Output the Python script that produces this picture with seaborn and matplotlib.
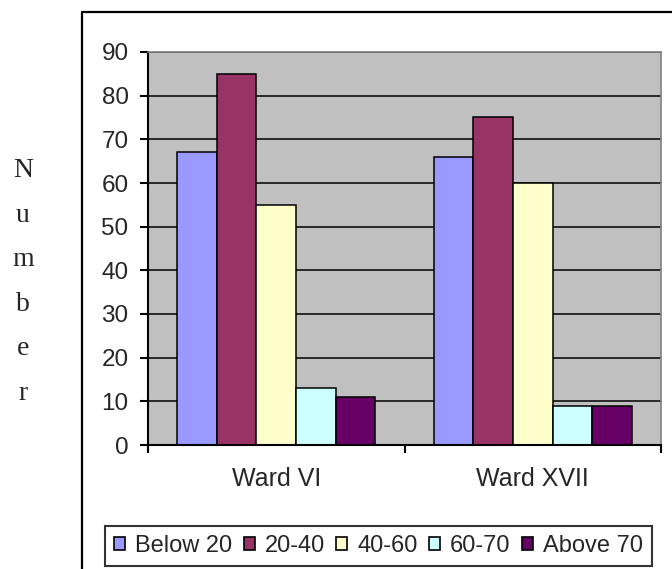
import matplotlib
matplotlib.use("Agg")
import matplotlib.pyplot as plt
from matplotlib.patches import Patch
from matplotlib.lines import Line2D
import seaborn as sns
import pandas as pd

# Data
wards = ["Ward VI", "Ward XVII"]
age_groups = ["Below 20", "20-40", "40-60", "60-70", "Above 70"]
ward_vi = [67, 85, 55, 13, 11]
ward_xvii = [66, 75, 60, 9, 9]
yticks = [0, 10, 20, 30, 40, 50, 60, 70, 80, 90]
colors = ["#9999FF", "#993366", "#FFFFCC", "#CCFFFF", "#660066"]

rows = []
for ward, vals in zip(wards, [ward_vi, ward_xvii]):
    for grp, v in zip(age_groups, vals):
        rows.append({"Ward": ward, "Age": grp, "Number": v})
df = pd.DataFrame(rows)

sns.set_style("white")
plt.rcParams["font.family"] = ["Liberation Sans", "DejaVu Sans"]

W, H = 672, 569
fig = plt.figure(figsize=(W / 100, H / 100), dpi=100)
ax = fig.add_axes([148 / W, (H - 445) / H, (661 - 148) / W, (445 - 52) / H])
ax.set_facecolor("#C0C0C0")

sns.barplot(data=df, x="Ward", y="Number", hue="Age", order=wards,
            hue_order=age_groups, palette=colors, saturation=1,
            edgecolor="black", linewidth=1.1, width=0.77, ax=ax,
            legend=False, errorbar=None)

ax.set_xlim(-0.5, 1.5)
ax.set_ylim(0, 90)
ax.set_yticks(yticks)
ax.set_yticklabels([str(t) for t in yticks], fontsize=17.5)
ax.yaxis.grid(True, color="black", linewidth=1.1)
ax.set_axisbelow(True)

ax.set_xticks([0, 1])
ax.set_xticklabels(wards, fontsize=18)
ax.set_xticks([-0.5, 0.5, 1.5], minor=True)
ax.tick_params(axis="x", which="major", length=0, pad=16)
ax.tick_params(axis="x", which="minor", length=6, width=1.5, color="black",
               direction="out", bottom=True)
ax.tick_params(axis="y", length=6, width=1.5, color="black", direction="out",
               pad=8, left=True)
ax.set_xlabel("")
ax.set_ylabel("")

for side in ["left", "bottom"]:
    ax.spines[side].set_color("black")
    ax.spines[side].set_linewidth(1.5)
for side in ["top", "right"]:
    ax.spines[side].set_visible(True)
    ax.spines[side].set_color("#808080")
    ax.spines[side].set_linewidth(1.2)

# Vertical "Number" label, one letter per line
for i, ch in enumerate("Number"):
    fig.text(23 / W, 1 - (177 + 44.6 * i) / H, ch, ha="center", va="baseline",
             fontsize=20, family=["Liberation Serif", "DejaVu Serif"])

# Outer chart frame (left and top edges)
fig.add_artist(Line2D([82 / W, 82 / W, 1.0], [0.0, 1 - 12 / H, 1 - 12 / H],
                      transform=fig.transFigure, color="black", linewidth=1.6))

# Legend
handles = [Patch(facecolor=c, edgecolor="black", linewidth=1.2) for c in colors]
leg = fig.legend(handles, age_groups, loc="center",
                 bbox_to_anchor=(378.5 / W, 1 - 546 / H), ncol=5, fontsize=17,
                 frameon=True, fancybox=False, handlelength=0.45,
                 handleheight=0.45, handletextpad=0.42, columnspacing=0.5,
                 borderpad=0.4, borderaxespad=0)
leg.get_frame().set_edgecolor("black")
leg.get_frame().set_linewidth(1.5)

fig.savefig("out.png", dpi=100, facecolor="white")
